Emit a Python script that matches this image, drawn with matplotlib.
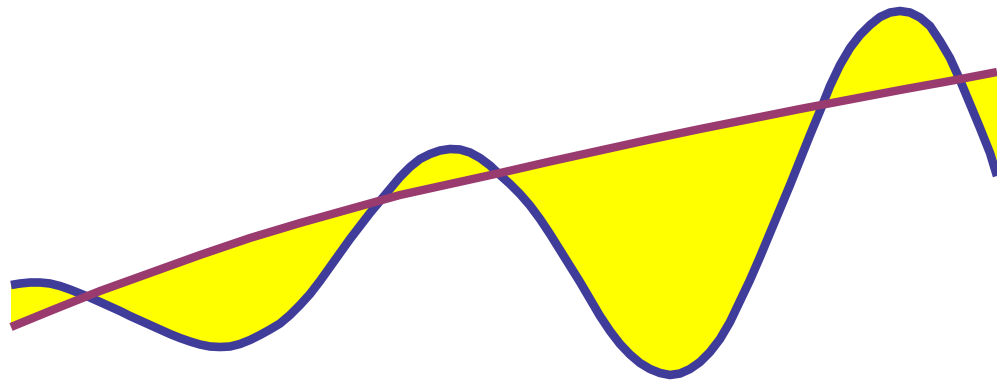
import numpy as np
import matplotlib.pyplot as plt

# wavy series (x, height above the bottom edge)
wave_x = [11, 20, 30, 40, 50, 60, 70, 80, 90, 100, 110, 120, 130, 140, 150,
          160, 170, 180, 190, 200, 210, 220, 230, 240, 250, 260, 270, 280,
          290, 300, 310, 320, 330, 340, 350, 360, 370, 380, 390, 400, 410,
          420, 430, 440, 450, 460, 470, 480, 490, 500, 510, 520, 530, 540,
          550, 560, 570, 580, 590, 600, 610, 620, 630, 640, 650, 660, 670,
          680, 690, 700, 710, 720, 730, 740, 750, 760, 770, 780, 790, 800,
          810, 820, 830, 840, 850, 860, 870, 880, 890, 900, 910, 920, 930,
          940, 950, 960, 970, 980, 990, 997]
wave_y = [96, 97.5, 98.5, 98.5, 97.5, 95, 91.5, 87.5, 83.5, 79, 74.5, 70, 65,
          60.5, 56, 51.5, 47, 43, 39.5, 36.5, 34.5, 34, 34.5, 37, 41, 46,
          51.5, 57.5, 66, 76, 87, 100, 114, 128, 142, 155, 168, 180, 192,
          204, 214, 222, 227, 230.5, 232, 231.5, 228.5, 223, 215.5, 206, 197,
          187, 175.5, 162, 147, 131, 115, 99, 82, 65, 50, 37, 26.5, 18, 12,
          8, 6, 7.5, 12, 19, 29, 42, 59, 80, 101, 124, 148, 172, 196, 221,
          246, 270, 295, 316, 333, 346, 356, 364, 368.5, 370, 368.5, 363.5,
          355, 340, 323, 301, 277, 253, 228, 205]

# rising trend series
trend_x = [11, 50, 100, 150, 200, 250, 300, 350, 400, 450, 500, 550, 600,
           650, 700, 750, 800, 850, 900, 950, 997]
trend_y = [54, 70, 90, 108, 126, 143, 158, 172, 186, 197, 208, 219.5, 230.5,
           241.5, 252, 262, 272, 281.5, 291, 300, 309]

WAVE_COLOR = "#403c99"
TREND_COLOR = "#993b6e"
FILL_COLOR = "#ffff00"


def main():
  fig = plt.figure(figsize=(9.97, 3.81), dpi=100)
  ax = fig.add_axes([0, 0, 1, 1])

  # area between the two curves (self-crossing polygon fills every lobe)
  poly_x = np.r_[wave_x, trend_x[::-1]]
  poly_y = np.r_[wave_y, trend_y[::-1]]
  ax.fill(poly_x, poly_y, color=FILL_COLOR, lw=0, zorder=1)

  ax.plot(wave_x, wave_y, color=WAVE_COLOR, lw=6.2,
          solid_capstyle="butt", solid_joinstyle="round", zorder=2)
  ax.plot(trend_x, trend_y, color=TREND_COLOR, lw=6,
          solid_capstyle="butt", solid_joinstyle="round", zorder=3)

  ax.set_xlim(0, 997)
  ax.set_ylim(0, 381)
  ax.axis("off")

  fig.savefig("out.png", dpi=100)


if __name__ == '__main__':
  main()
